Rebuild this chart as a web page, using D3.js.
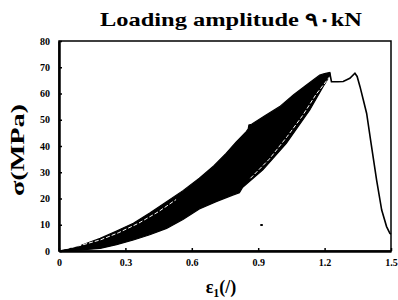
<!DOCTYPE html>
<html><head><meta charset="utf-8">
<script src="https://cdn.jsdelivr.net/npm/d3@7"></script>
<style>body{margin:0;background:#fff}svg{display:block}</style>
</head><body>
<script>
// data (strain %, stress MPa)
const xTicks = [0, 0.3, 0.6, 0.9, 1.2, 1.5];
const xTickLabels = {"0": "0", "0.3": "0.3", "0.6": "0.6", "0.9": "0.9", "1.2": "1.2", "1.5": "1.5"};
const yTicks = [0, 10, 20, 30, 40, 50, 60, 70, 80];
const upperEnvelope = [[0,0],[0.08,1.5],[0.186,4.8],[0.26,7.6],[0.336,10.6],[0.41,14.5],[0.486,18.8],[0.56,23],[0.634,27.7],[0.7,32.5],[0.755,37.2],[0.8,41.5],[0.846,45.5],[0.855,46.5],[0.858,48],[0.87,48.3],[0.93,51.5],[0.997,55],[1.06,59.5],[1.118,63.2],[1.178,67],[1.2,67.6],[1.223,68]];
const lowerEnvelope = [[0,0],[0.1,0.4],[0.186,1],[0.26,2.4],[0.336,4.2],[0.41,6.2],[0.486,8.6],[0.56,12],[0.634,16],[0.71,18.8],[0.785,21.3],[0.815,22.2],[0.83,24.3],[0.921,30.9],[1.027,41],[1.133,53.7],[1.193,62.6],[1.225,67]];
const unloadTrace1 = [[0.03,0.9],[0.1,2.2],[0.186,4.2],[0.27,7],[0.36,10.6],[0.45,15],[0.529,19.6]];
const unloadTrace2 = [[0.865,27.7],[0.95,35],[1.03,43.5],[1.1,51.5],[1.16,59.5],[1.223,66.4]];
const strayPoint = [[0.914,9.9]];
const postPeak = [[1.223,68],[1.231,64.5],[1.26,64.5],[1.284,64.6],[1.314,65.8],[1.337,67.7],[1.347,66.5],[1.36,62.6],[1.375,57.5],[1.39,52.4],[1.41,41],[1.435,27],[1.458,15.6],[1.48,9.3],[1.495,6.7],[1.5,6.5]];

const W = 398, H = 300;
const m = {l:59, r:391, t:41, b:251};
const svg = d3.select("body").append("svg").attr("width", W).attr("height", H);
const x = d3.scaleLinear().domain([0, 1.5]).range([m.l, m.r]);
const y = d3.scaleLinear().domain([0, 80]).range([m.b, m.t]);

// frame
svg.append("rect").attr("x", m.l).attr("y", m.t).attr("width", m.r - m.l).attr("height", m.b - m.t)
  .attr("fill", "none").attr("stroke", "#000").attr("stroke-width", 1.5);

// axes
const font = "'Liberation Serif','Times New Roman',serif";
const yAxis = d3.axisLeft(y).tickValues(yTicks).tickSizeInner(-3).tickSizeOuter(0).tickPadding(9);
const gy = svg.append("g").attr("transform", `translate(${m.l},0)`).call(yAxis);
const xAxis = d3.axisBottom(x).tickValues(xTicks).tickFormat(d => xTickLabels[String(d)]).tickSizeInner(-3).tickSizeOuter(0).tickPadding(8);
const gx = svg.append("g").attr("transform", `translate(0,${m.b})`).call(xAxis);
[gx, gy].forEach(g => {
  g.select(".domain").attr("stroke", "#000").attr("stroke-width", 2.5);
  g.selectAll(".tick line").attr("stroke", "#000").attr("stroke-width", 1.5);
  g.selectAll("text").attr("font-family", font).attr("font-weight", "bold").attr("font-size", 10).attr("fill", "#000");
});

// data marks
const line = d3.line().x(d => x(d[0])).y(d => y(d[1]));
const area = upperEnvelope.concat(lowerEnvelope.slice().reverse());
svg.append("path").attr("d", line(area) + "Z").attr("fill", "#000").attr("stroke", "#000").attr("stroke-width", 1.2);
[unloadTrace1, unloadTrace2].forEach(t => {
  svg.append("path").attr("d", line(t)).attr("fill", "none")
    .attr("stroke", "#fff").attr("stroke-width", 1).attr("stroke-dasharray", "4,2");
});
svg.append("path").attr("d", line(postPeak)).attr("fill", "none").attr("stroke", "#000").attr("stroke-width", 1.6);
svg.selectAll("rect.stray").data(strayPoint).join("rect").attr("class", "stray")
  .attr("x", d => x(d[0]) - 1).attr("y", d => y(d[1]) - 1).attr("width", 2.5).attr("height", 2).attr("fill", "#000");

// title
svg.append("text").attr("x", 231).attr("y", 26).attr("text-anchor", "middle")
  .attr("font-family", font).attr("font-weight", "bold").attr("font-size", 19)
  .attr("textLength", 262).attr("lengthAdjust", "spacingAndGlyphs")
  .text("Loading amplitude ٩٠kN");

// y label
svg.append("text").attr("transform", "translate(24,150) rotate(-90)").attr("text-anchor", "middle")
  .attr("font-family", font).attr("font-weight", "bold").attr("font-size", 19)
  .attr("textLength", 92).attr("lengthAdjust", "spacingAndGlyphs")
  .text("σ(MPa)");

// x label
const xl = svg.append("text").attr("x", 221).attr("y", 293).attr("text-anchor", "middle")
  .attr("font-family", font).attr("font-weight", "bold").attr("font-size", 18);
xl.append("tspan").text("ε");
xl.append("tspan").attr("font-size", 12).attr("dy", 4).text("1");
xl.append("tspan").attr("dy", -4).text("(/)");
</script>
</body></html>
